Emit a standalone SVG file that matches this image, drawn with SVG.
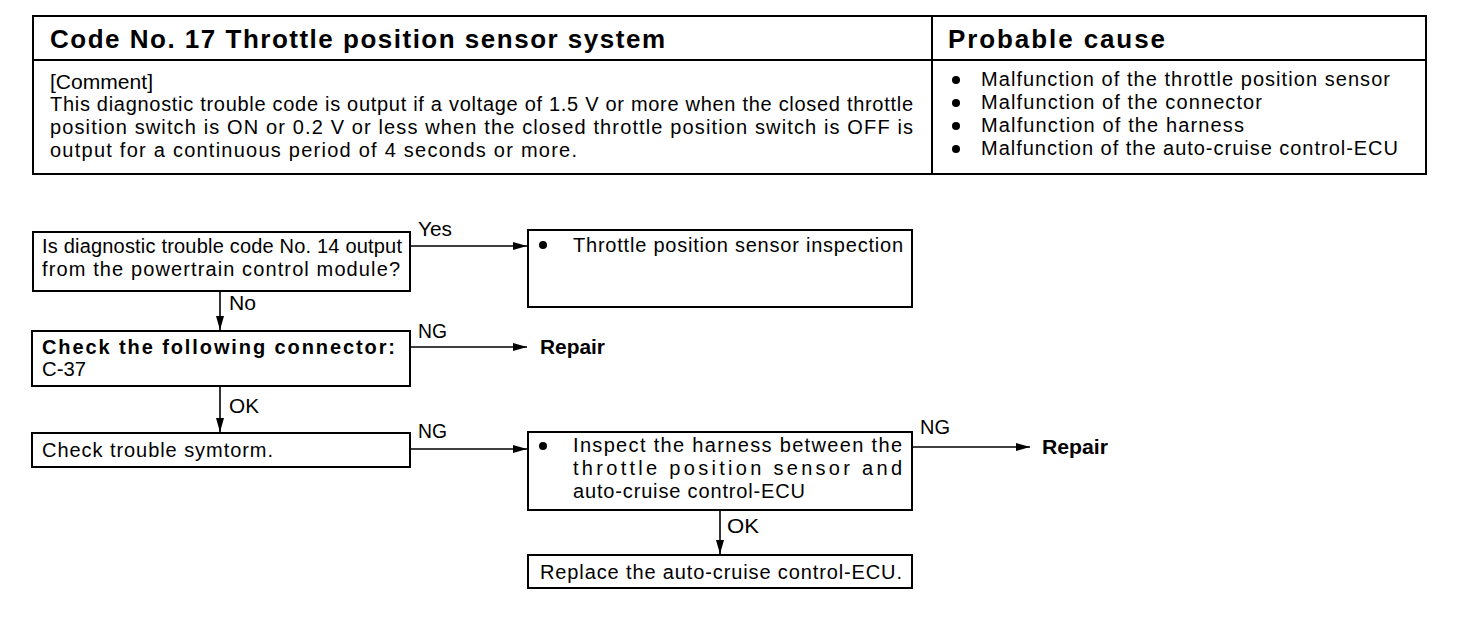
<svg xmlns="http://www.w3.org/2000/svg" width="1472" height="630" viewBox="0 0 1472 630">
<defs>
<style>
text{font-family:"Liberation Sans",Arial,sans-serif;fill:#000;}
.h{font-size:26px;font-weight:bold;}
.t{font-size:20px;}
.b{font-weight:bold;}
.box{fill:#fff;stroke:#000;stroke-width:2;}
.ln{fill:none;stroke:#000;stroke-width:2;}
.c{stroke:#000;stroke-width:1.6;fill:none;}
</style>
<marker id="ah" viewBox="0 0 14 8" refX="14" refY="4" markerWidth="14" markerHeight="8" markerUnits="userSpaceOnUse" orient="auto">
<path d="M0,0 L14,4 L0,8 Z" fill="#000"/>
</marker>
</defs>
<rect width="1472" height="630" fill="#fff"/>
<g id="table">
<rect class="box" x="33" y="16" width="1393" height="158"/>
<line class="ln" x1="33" y1="60" x2="1426" y2="60"/>
<line class="ln" x1="932" y1="16" x2="932" y2="174"/>
<text class="h" x="50" y="48" textLength="615" lengthAdjust="spacing">Code No. 17 Throttle position sensor system</text>
<text class="h" x="948" y="48" textLength="217" lengthAdjust="spacing">Probable cause</text>
<text class="t" x="50" y="89" textLength="103" lengthAdjust="spacingAndGlyphs">[Comment]</text>
<text class="t" x="50" y="111" textLength="863" lengthAdjust="spacing">This diagnostic trouble code is output if a voltage of 1.5 V or more when the closed throttle</text>
<text class="t" x="50" y="134" textLength="863" lengthAdjust="spacing">position switch is ON or 0.2 V or less when the closed throttle position switch is OFF is</text>
<text class="t" x="50" y="157" textLength="527" lengthAdjust="spacing">output for a continuous period of 4 seconds or more.</text>
<circle cx="956" cy="80" r="4"/>
<circle cx="956" cy="103" r="4"/>
<circle cx="956" cy="126" r="4"/>
<circle cx="956" cy="149" r="4"/>
<text class="t" x="981" y="86" textLength="409" lengthAdjust="spacing">Malfunction of the throttle position sensor</text>
<text class="t" x="981" y="109" textLength="281" lengthAdjust="spacing">Malfunction of the connector</text>
<text class="t" x="981" y="132" textLength="263" lengthAdjust="spacing">Malfunction of the harness</text>
<text class="t" x="981" y="155" textLength="417" lengthAdjust="spacing">Malfunction of the auto-cruise control-ECU</text>
</g>
<g id="connectors">
<line class="c" x1="411" y1="246" x2="527" y2="246" marker-end="url(#ah)"/>
<line class="c" x1="220" y1="291" x2="220" y2="330" marker-end="url(#ah)"/>
<line class="c" x1="411" y1="347" x2="527" y2="347" marker-end="url(#ah)"/>
<line class="c" x1="220" y1="387" x2="220" y2="432" marker-end="url(#ah)"/>
<line class="c" x1="411" y1="449" x2="527" y2="449" marker-end="url(#ah)"/>
<line class="c" x1="913" y1="447" x2="1030" y2="447" marker-end="url(#ah)"/>
<line class="c" x1="720" y1="511" x2="720" y2="554" marker-end="url(#ah)"/>
<text class="t" x="418" y="236" textLength="34" lengthAdjust="spacingAndGlyphs">Yes</text>
<text class="t" x="229" y="310" textLength="27" lengthAdjust="spacingAndGlyphs">No</text>
<text class="t" x="418" y="338" textLength="29" lengthAdjust="spacingAndGlyphs">NG</text>
<text class="t" x="229" y="413" textLength="30" lengthAdjust="spacingAndGlyphs">OK</text>
<text class="t" x="418" y="438" textLength="29" lengthAdjust="spacingAndGlyphs">NG</text>
<text class="t" x="920" y="434" textLength="30" lengthAdjust="spacingAndGlyphs">NG</text>
<text class="t" x="727" y="533" textLength="32" lengthAdjust="spacingAndGlyphs">OK</text>
</g>
<g id="n1">
<rect class="box" x="33" y="232" width="377" height="59"/>
<text class="t" x="42" y="253" textLength="360" lengthAdjust="spacing">Is diagnostic trouble code No. 14 output</text>
<text class="t" x="42" y="276" textLength="358" lengthAdjust="spacing">from the powertrain control module?</text>
</g>
<g id="n2">
<rect class="box" x="528" y="230" width="384" height="77"/>
<circle cx="543" cy="245" r="4"/>
<text class="t" x="573" y="252" textLength="330" lengthAdjust="spacing">Throttle position sensor inspection</text>
</g>
<g id="n3">
<rect class="box" x="32" y="331" width="378" height="55"/>
<text class="t b" x="42" y="354" textLength="353" lengthAdjust="spacing">Check the following connector:</text>
<text class="t" x="42" y="376" textLength="44" lengthAdjust="spacingAndGlyphs">C-37</text>
</g>
<g id="repair1">
<text class="t b" x="540" y="354" textLength="65" lengthAdjust="spacingAndGlyphs">Repair</text>
</g>
<g id="n4">
<rect class="box" x="32" y="433" width="378" height="34"/>
<text class="t" x="42" y="457" textLength="231" lengthAdjust="spacing">Check trouble symtorm.</text>
</g>
<g id="n5">
<rect class="box" x="528" y="432" width="384" height="78"/>
<circle cx="543" cy="446" r="4"/>
<text class="t" x="573" y="452" textLength="329" lengthAdjust="spacing">Inspect the harness between the</text>
<text class="t" x="573" y="475" textLength="329" lengthAdjust="spacing">throttle position sensor and</text>
<text class="t" x="573" y="498" textLength="232" lengthAdjust="spacing">auto-cruise control-ECU</text>
</g>
<g id="repair2">
<text class="t b" x="1042" y="454" textLength="66" lengthAdjust="spacingAndGlyphs">Repair</text>
</g>
<g id="n6">
<rect class="box" x="528" y="555" width="384" height="33"/>
<text class="t" x="540" y="579" textLength="362" lengthAdjust="spacing">Replace the auto-cruise control-ECU.</text>
</g>
</svg>
